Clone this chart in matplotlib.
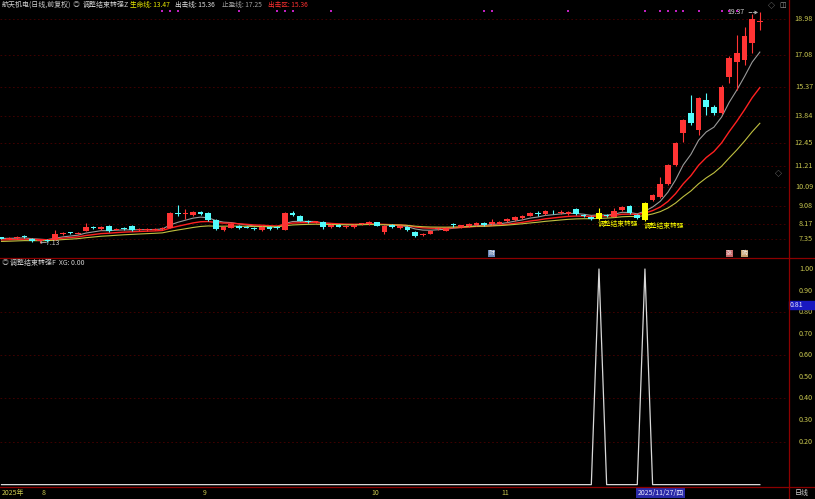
import numpy as np
import pandas as pd
import matplotlib
matplotlib.use("Agg")
import matplotlib.pyplot as plt
from matplotlib.lines import Line2D
from matplotlib.patches import Rectangle
from matplotlib.transforms import blended_transform_factory as blend

plt.rcParams['font.family'] = ['Noto Sans CJK SC', 'DejaVu Sans']

# =======================
# Data (daily candles, end of Jul -> 19 Dec 2025)
# =======================
opens = [7.44, 7.37, 7.40, 7.47, 7.37, 7.25, 7.30, 7.33, 7.62, 7.70,
         7.65, 7.79, 7.99, 7.90, 8.05, 7.86, 7.93, 8.05, 7.84, 7.83,
         7.86, 7.90, 7.95, 8.72, 8.68, 8.63, 8.79, 8.74, 8.37, 7.84,
         7.95, 8.05, 8.00, 7.95, 7.84, 8.00, 7.98, 7.84, 8.73, 8.58,
         8.28, 8.24, 8.25, 7.97, 8.10, 8.00, 7.98, 8.14, 8.16, 8.25,
         7.74, 8.10, 7.93, 8.02, 7.75, 7.57, 7.63, 7.91, 7.79, 8.12,
         7.98, 8.04, 8.10, 8.21, 8.16, 8.16, 8.30, 8.37, 8.47, 8.58,
         8.72, 8.68, 8.79, 8.74, 8.68, 8.95, 8.62, 8.53, 8.42, 8.60,
         8.53, 8.90, 9.11, 8.63, 8.37, 9.42, 9.58, 10.27, 11.27, 12.96,
         14.02, 13.12, 14.70, 14.33, 14.02, 15.92, 16.71, 16.82, 17.71, 18.80]
highs = [7.48, 7.45, 7.50, 7.55, 7.42, 7.32, 7.35, 7.84, 7.72, 7.75,
         7.74, 8.21, 8.04, 8.04, 8.08, 7.95, 7.97, 8.08, 7.92, 7.92,
         7.93, 8.00, 8.76, 9.16, 8.95, 8.84, 8.84, 8.78, 8.40, 8.05,
         8.20, 8.10, 8.04, 7.98, 8.04, 8.03, 8.05, 8.76, 8.82, 8.62,
         8.35, 8.30, 8.30, 8.14, 8.13, 8.10, 8.13, 8.20, 8.30, 8.28,
         8.08, 8.14, 8.08, 8.06, 7.80, 7.69, 7.84, 8.02, 7.98, 8.22,
         8.12, 8.20, 8.24, 8.24, 8.42, 8.30, 8.46, 8.57, 8.62, 8.78,
         8.82, 8.90, 8.88, 8.90, 8.85, 8.98, 8.66, 8.56, 9.00, 8.66,
         9.00, 9.10, 9.15, 8.68, 9.32, 9.75, 10.64, 11.32, 12.48, 13.72,
         14.97, 14.88, 15.07, 14.45, 15.50, 17.00, 18.14, 18.56, 19.25, 19.37]
lows = [7.34, 7.34, 7.36, 7.40, 7.20, 7.13, 7.22, 7.30, 7.58, 7.62,
        7.60, 7.76, 7.88, 7.86, 7.75, 7.82, 7.86, 7.80, 7.80, 7.80,
        7.82, 7.86, 7.93, 8.60, 8.42, 8.60, 8.64, 8.33, 7.85, 7.80,
        7.92, 7.90, 7.92, 7.85, 7.80, 7.86, 7.90, 7.82, 8.55, 8.30,
        8.20, 8.20, 7.90, 7.93, 7.98, 7.96, 7.95, 8.10, 8.12, 8.04,
        7.62, 7.95, 7.90, 7.80, 7.48, 7.52, 7.60, 7.85, 7.76, 8.00,
        7.95, 8.00, 8.07, 8.07, 8.12, 8.13, 8.27, 8.33, 8.44, 8.55,
        8.60, 8.64, 8.68, 8.66, 8.64, 8.64, 8.50, 8.38, 8.38, 8.50,
        8.50, 8.86, 8.70, 8.42, 8.31, 9.38, 9.55, 10.20, 11.20, 12.50,
        13.40, 12.85, 13.91, 13.90, 13.95, 15.60, 15.23, 16.55, 17.18, 18.40]
closes = [7.37, 7.40, 7.44, 7.46, 7.24, 7.27, 7.26, 7.63, 7.68, 7.66,
          7.70, 8.00, 7.92, 8.00, 7.79, 7.90, 7.90, 7.84, 7.88, 7.87,
          7.88, 7.96, 8.74, 8.66, 8.69, 8.79, 8.68, 8.37, 7.89, 8.00,
          8.16, 7.95, 7.95, 7.89, 8.00, 7.89, 7.94, 8.74, 8.61, 8.33,
          8.27, 8.27, 7.97, 8.10, 8.01, 8.05, 8.10, 8.16, 8.26, 8.07,
          8.05, 7.98, 8.05, 7.84, 7.52, 7.65, 7.80, 7.93, 7.95, 8.10,
          8.08, 8.16, 8.21, 8.10, 8.28, 8.26, 8.42, 8.53, 8.58, 8.74,
          8.69, 8.86, 8.76, 8.81, 8.81, 8.68, 8.55, 8.42, 8.74, 8.56,
          8.84, 9.05, 8.74, 8.47, 9.27, 9.69, 10.27, 11.27, 12.43, 13.65,
          13.49, 14.81, 14.33, 14.02, 15.39, 16.92, 17.18, 18.08, 18.98, 18.82]

signal_days = [78, 84]            # 调整结束转强 (XG = 1)
dot_days = [21, 22, 23, 31, 36, 37, 38, 43, 63, 64, 74,
            84, 86, 87, 88, 89, 91, 94, 95, 96]
month_labels = ['8', '9', '10', '11']
month_start = [5, 26, 48, 65]
events = [(64, '财', '#6a88b8'), (95, '涨', '#c86868'), (97, '购', '#c8a070')]

# lines: 止盈线 / 出击线 / 生命线, values at left edge
line_names = ['止盈线', '出击线', '生命线']
line_spans = [7, 14, 25]
line_start = [7.40, 7.30, 7.22]
line_last = [17.25, 15.36, 13.47]

main_ticks = [18.98, 17.08, 15.37, 13.84, 12.45, 11.21, 10.09, 9.08, 8.17, 7.35]
sub_ticks = [1.00, 0.90, 0.80, 0.70, 0.60, 0.50, 0.40, 0.30, 0.20]

RED = '#ff3434'
CYAN = '#54fcfc'
YEL = '#ffff00'
TICK = '#cac850'
FRAME = '#8c0000'

n = len(closes)
x = np.arange(n)
o, h, l, c = map(np.array, (opens, highs, lows, closes))
xg = np.zeros(n)
xg[signal_days] = 1.0

# =======================
# Layout (pixel based)
# =======================
W, H = 815, 499
step, x0 = 7.66, 1.5
axis_px = 788

def fx(p):
    return p / W

def fy(p):
    return 1 - p / H

fig = plt.figure(figsize=(W / 100, H / 100), dpi=100, facecolor='black')
ax = fig.add_axes([0, fy(257), fx(axis_px), 257 / H])
sub = fig.add_axes([0, fy(487), fx(axis_px), (487 - 258) / H])
for a in (ax, sub):
    a.set_facecolor('black')
    a.set_xlim(-x0 / step, (axis_px - x0) / step)
    a.set_xticks([])
    a.set_yticks([])
    for s in a.spines.values():
        s.set_visible(False)
ax.set_ylim(6.41, 19.98)
sub.set_ylim(-0.011, 1.051)

# grid
for t in main_ticks:
    ax.axhline(t, color='#4a0000', lw=0.6, ls=(0, (2, 3)), zorder=0)
for t in [0.2, 0.4, 0.6, 0.8]:
    sub.axhline(t, color='#4a0000', lw=0.6, ls=(0, (2, 3)), zorder=0)

# =======================
# Candles
# =======================
cols = np.where(c >= o, RED, CYAN).astype(object)
cols[signal_days] = YEL
body_lo = np.minimum(o, c)
body_h = np.maximum(np.abs(c - o), 0.045)
ax.vlines(x, l, h, colors=cols, lw=0.8, zorder=3)
ax.bar(x, body_h, bottom=body_lo, width=0.74, color=cols, linewidth=0, zorder=4)

# moving lines
line_cols = ['#9a9a9a', '#ff2020', '#c0c040']
line_w = [0.8, 1.0, 0.8]
for span, seed, col, lw in zip(line_spans, line_start, line_cols, line_w):
    vals = pd.Series([seed] + closes).ewm(span=span, adjust=False).mean().values[1:]
    ax.plot(x, vals, color=col, lw=lw, zorder=2)

# signal labels
for d in signal_days:
    ax.text(d - 0.15, l[d] - 0.03, '调整结束转强', color=YEL, fontsize=4.9,
            ha='left', va='top', zorder=5)

# purple dots on top
ax.scatter(dot_days, [0.958] * len(dot_days), transform=blend(ax.transData, ax.transAxes),
           marker='s', s=2.2, color='#c020c0', lw=0, zorder=5)

# high / low marks
lo_i = int(np.argmin(l))
ax.text(lo_i, l[lo_i], '←%.2f' % l[lo_i], color='#c8c8c8', fontsize=5.0, ha='left', va='center')
hi_i = int(np.argmax(h))
ax.annotate('%.2f' % h[hi_i], xy=(hi_i - 0.2, h[hi_i] - 0.05), xytext=(hi_i - 4.2, h[hi_i] - 0.05),
            color='#d0d0d0', fontsize=5.0, ha='left', va='center',
            arrowprops=dict(arrowstyle='->', color='#c0c0c0', lw=0.6, ls='--',
                            shrinkA=1, shrinkB=0))

# event badges
ev_tr = blend(ax.transData, fig.transFigure)
for d, s, col in events:
    ax.text(d, fy(253.5), s, transform=ev_tr, fontsize=4.2, color='#f0f0f0',
            ha='center', va='center',
            bbox=dict(boxstyle='square,pad=0.12', fc=col, ec='none'))

# =======================
# Sub panel
# =======================
sub.plot(x, xg, color='#d8d8d8', lw=0.9)

# =======================
# Axes labels / frame
# =======================
tr_main = blend(fig.transFigure, ax.transData)
for t in main_ticks:
    ax.text(fx(813), t, '%.2f' % t, transform=tr_main, color=TICK, fontsize=5.2,
            ha='right', va='center')
tr_sub = blend(fig.transFigure, sub.transData)
for t in sub_ticks:
    sub.text(fx(813), t, '%.2f' % t, transform=tr_sub, color=TICK, fontsize=5.2,
             ha='right', va='center', zorder=2)

# crosshair value box (sits over the 0.80 label, as in the terminal)
val = 0.81
sub.add_artist(Rectangle((fx(789), val + 0.5 / 216), fx(26), 8 / 216, transform=tr_sub,
                         color='#1818c0', zorder=6, clip_on=False))
sub.text(fx(790), val + 4.5 / 216, '%.2f' % val, transform=tr_sub, color='#e8e8ff',
         fontsize=5.0, ha='left', va='center', zorder=7)

for seg in [((0, 1), (fy(257.5), fy(257.5))), ((0, 1), (fy(487), fy(487))),
            ((fx(788.5), fx(788.5)), (0, 1))]:
    fig.add_artist(Line2D(seg[0], seg[1], transform=fig.transFigure, color=FRAME, lw=0.9))

# date bar
date_tr = blend(ax.transData, fig.transFigure)
fig.text(fx(2), fy(493), '2025年', color=TICK, fontsize=5.0, ha='left', va='center')
for lab, d in zip(month_labels, month_start):
    ax.text(d + 0.3, fy(493), lab, transform=date_tr, color=TICK, fontsize=5.0,
            ha='left', va='center')
ax.text(83, fy(493), '2025/11/27/四', transform=date_tr, color='#e8e8ff', fontsize=5.0,
        ha='left', va='center', bbox=dict(boxstyle='square,pad=0.15', fc='#2a2aa8', ec='none'))
fig.text(fx(795), fy(493), '日线', color='#d0d0d0', fontsize=5.0, ha='left', va='center')

# header texts
hy = fy(5)
fig.text(fx(2), hy, '航天机电(日线,前复权)', color='#d0d0d0', fontsize=5.0, va='center')
fig.text(fx(73), hy, '◎', color='#a0a0a0', fontsize=5.0, va='center')
fig.text(fx(83), hy, '调整结束转强Z', color='#d0d0d0', fontsize=5.0, va='center')
head_x = [130, 175, 222, 268]
head_cols = ['#e8e800', '#e0e0e0', '#a0a0a0', '#ff3030']
head_vals = [line_last[2], line_last[1], line_last[0], line_last[1]]
head_names = ['生命线', '出击线', '止盈线', '出击区']
for px, name, v, col in zip(head_x, head_names, head_vals, head_cols):
    fig.text(fx(px), hy, '%s: %.2f' % (name, v), color=col, fontsize=4.8, va='center')

fig.text(fx(2), fy(263), '◎', color='#a0a0a0', fontsize=5.0, va='center')
fig.text(fx(10), fy(263), '调整结束转强F  XG: %.2f' % xg[-1], color='#d0d0d0', fontsize=5.0,
         va='center')

fig.text(fx(768), fy(5), '◇', color='#a0a0a0', fontsize=5.0, va='center')
fig.text(fx(779), fy(5), '◫', color='#a0a0a0', fontsize=5.0, va='center')
fig.text(fx(775), fy(173), '◇', color='#a0a0a0', fontsize=5.0, va='center')

fig.savefig('out.png', dpi=100, facecolor='black')
